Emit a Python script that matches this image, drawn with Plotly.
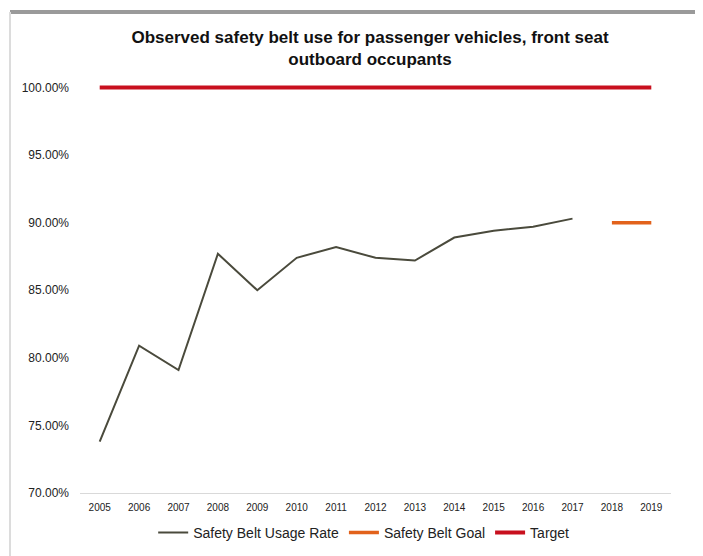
import plotly.graph_objects as go

years = [2005, 2006, 2007, 2008, 2009, 2010, 2011, 2012, 2013, 2014, 2015, 2016, 2017, 2018, 2019]
usage_years = [2005, 2006, 2007, 2008, 2009, 2010, 2011, 2012, 2013, 2014, 2015, 2016, 2017]
usage_rate = [0.738, 0.809, 0.791, 0.877, 0.850, 0.874, 0.882, 0.874, 0.872, 0.889, 0.894, 0.897, 0.903]
goal_years = [2018, 2019]
goal_values = [0.90, 0.90]
target_values = [1.0] * len(years)
y_ticks = [0.70, 0.75, 0.80, 0.85, 0.90, 0.95, 1.00]

W, H = 703, 556
L, R, T, B = 72, 40, 66, 71
PW, PH = W - L - R, H - T - B


def px(x):
    return (x - L) / PW


def py(y):
    return (H - B - y) / PH


fig = go.Figure()
fig.add_trace(go.Scatter(x=usage_years, y=usage_rate, mode="lines", name="Safety Belt Usage Rate",
                         line=dict(color="#4a4a3c", width=2)))
fig.add_trace(go.Scatter(x=goal_years, y=goal_values, mode="lines", name="Safety Belt Goal",
                         line=dict(color="#E2621B", width=3.5)))
fig.add_trace(go.Scatter(x=years, y=target_values, mode="lines", name="Target",
                         line=dict(color="#C8101E", width=4)))

fig.update_layout(
    width=W, height=H,
    paper_bgcolor="white", plot_bgcolor="white",
    margin=dict(l=L, r=R, t=T, b=B, autoexpand=False),
    title=dict(text="<b>Observed safety belt use for passenger vehicles, front seat<br>outboard occupants</b>",
               x=0.515, xanchor="center", y=0.937, yanchor="top",
               font=dict(family="Liberation Sans, Arial, sans-serif", size=17, color="#111")),
    showlegend=True,
    legend=dict(orientation="h", x=0.48, xanchor="center", yref="container", y=(H - 509) / H,
                yanchor="top",
                font=dict(family="Liberation Sans, Arial, sans-serif", size=14, color="#222"),
                itemwidth=30, traceorder="normal"),
    xaxis=dict(range=[2004.5, 2019.5], tickvals=years, ticktext=[str(y) for y in years],
               showgrid=False, zeroline=False, showline=True, linecolor="#d9d9d9", linewidth=1,
               ticks="", tickfont=dict(family="Liberation Sans, Arial, sans-serif", size=10, color="#222"),
               ticklabelstandoff=5),
    yaxis=dict(range=[0.70, 1.01], tickvals=y_ticks, tickformat=".2%",
               showgrid=False, zeroline=False, showline=False, ticks="",
               tickfont=dict(family="Liberation Sans, Arial, sans-serif", size=12, color="#222"),
               ticklabelstandoff=10),
    shapes=[
        dict(type="line", xref="paper", yref="paper", x0=px(2), x1=px(703), y0=py(4), y1=py(4),
             line=dict(color="#9a9a9a", width=4)),
        dict(type="line", xref="paper", yref="paper", x0=px(2), x1=px(2), y0=py(556), y1=py(4),
             line=dict(color="#dcdcdc", width=2)),
    ],
)

fig.write_html("out.html")
